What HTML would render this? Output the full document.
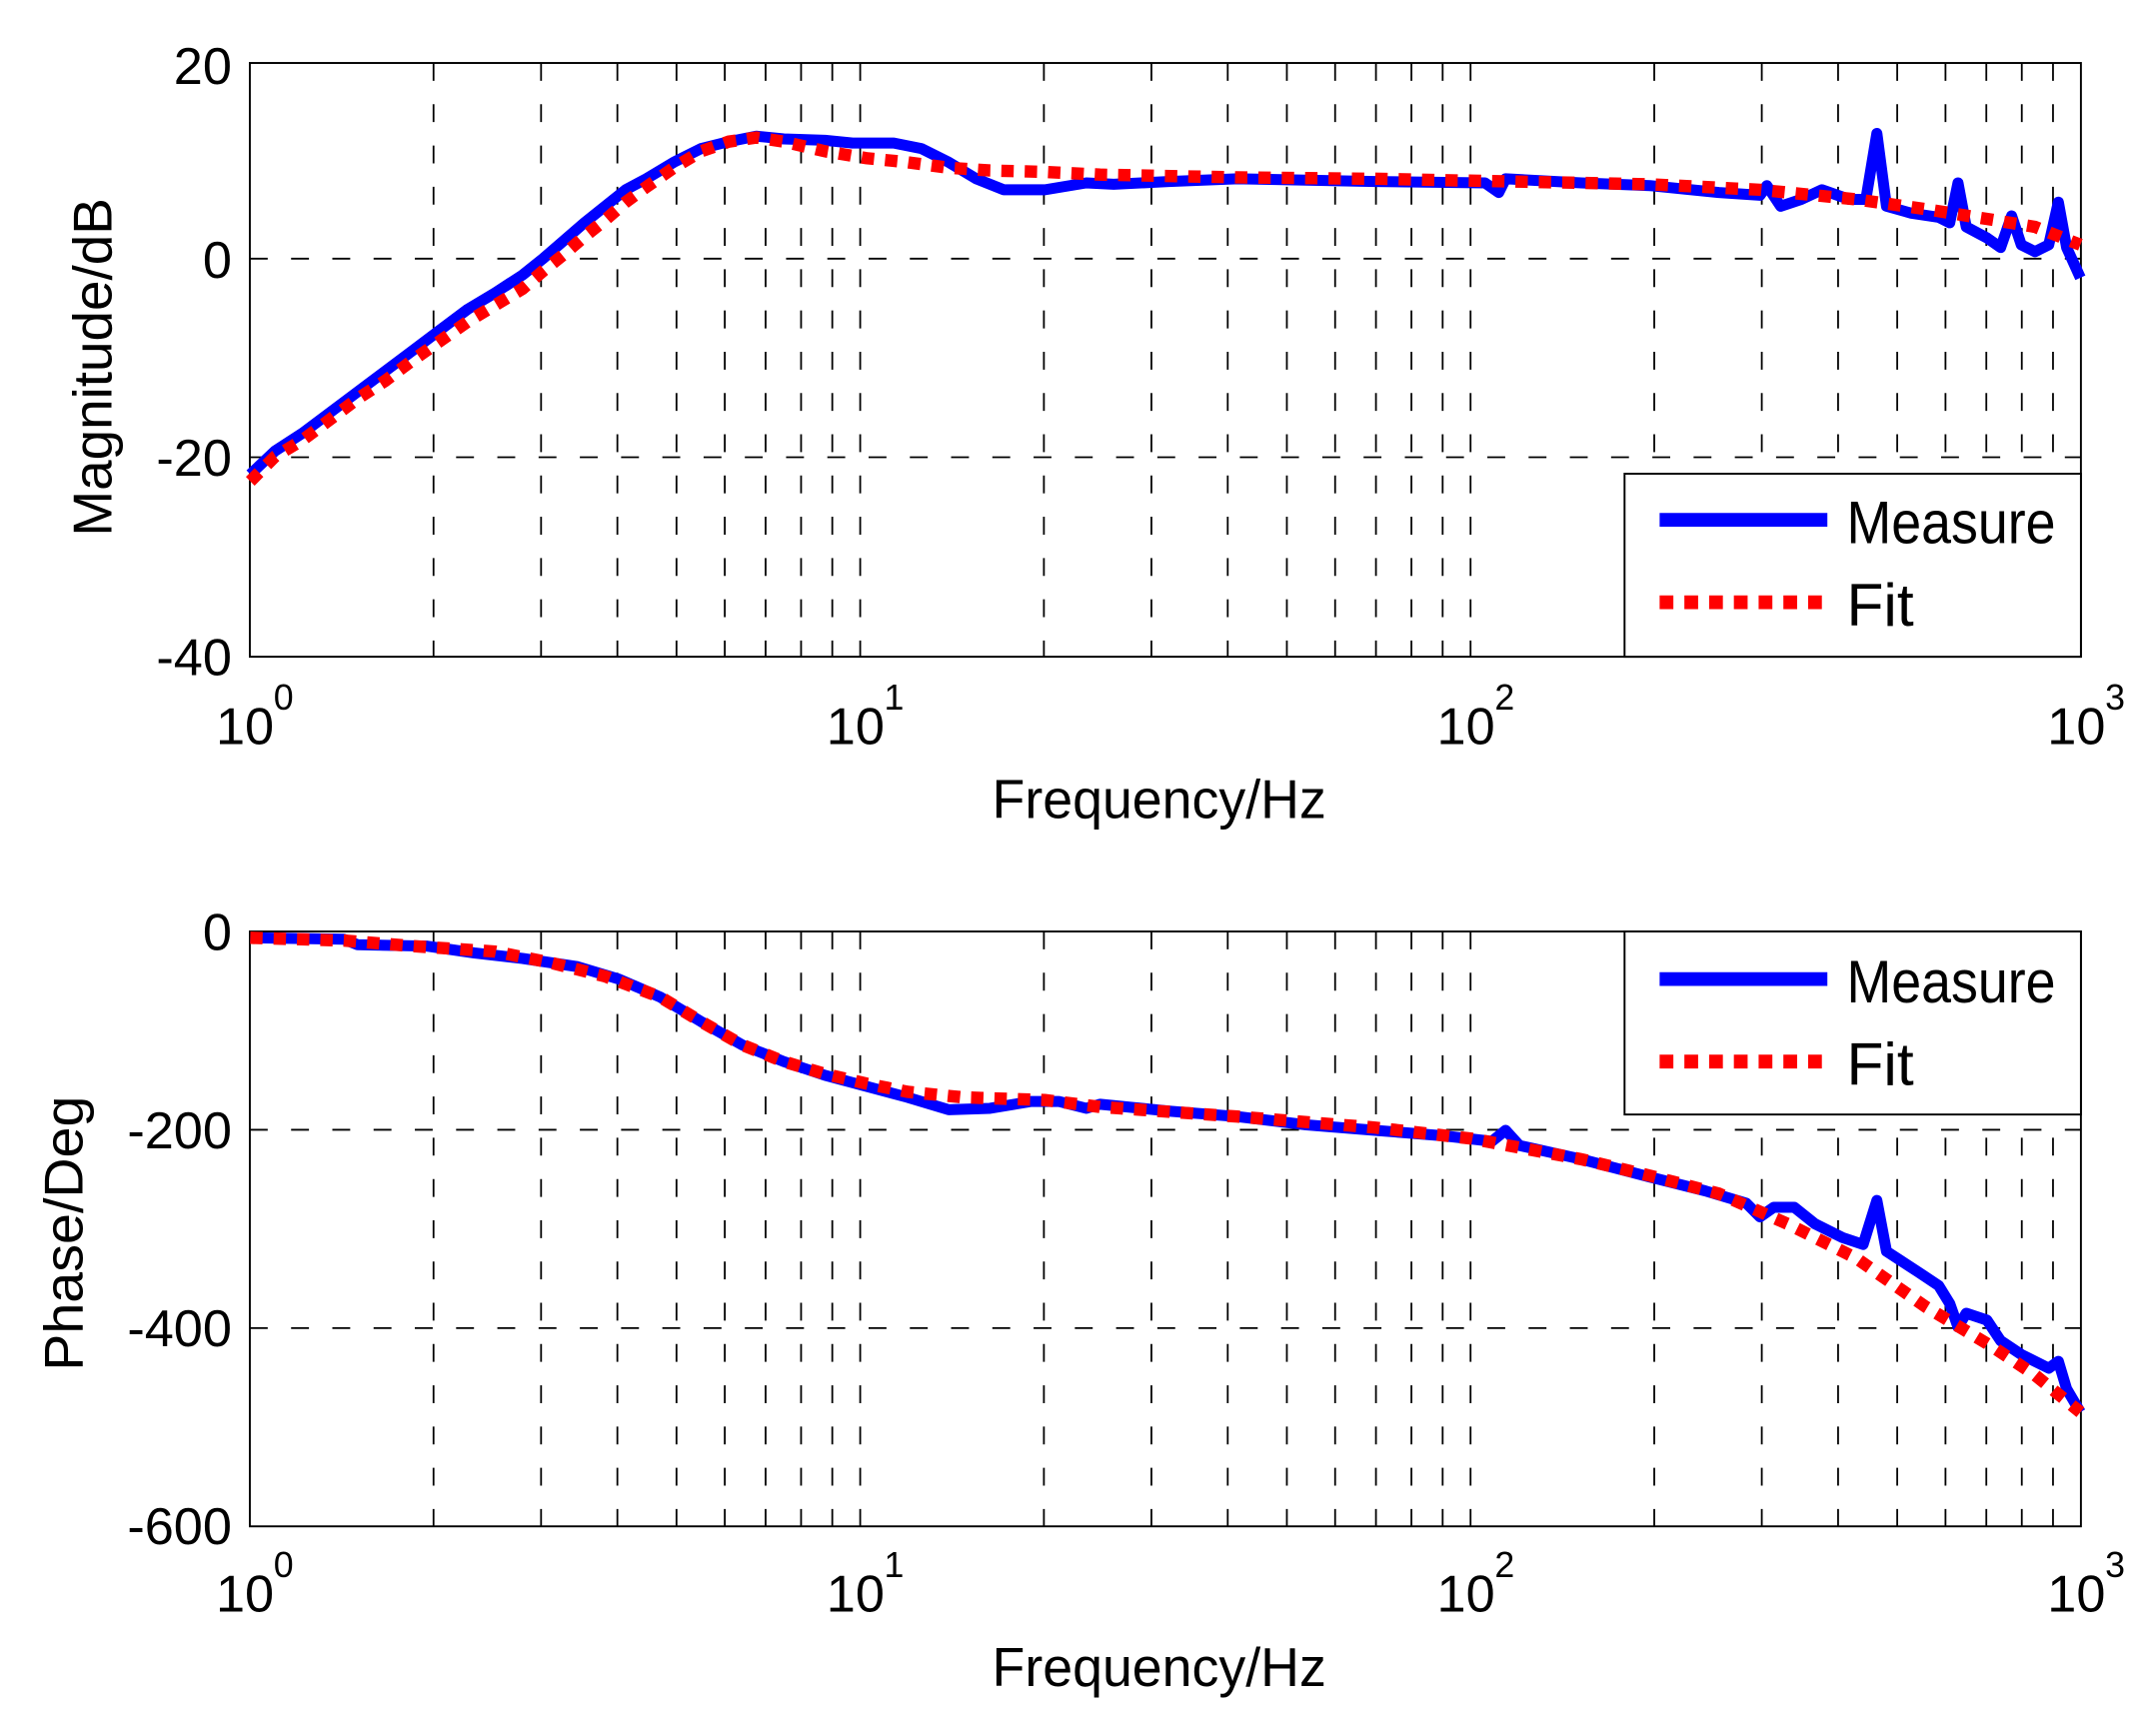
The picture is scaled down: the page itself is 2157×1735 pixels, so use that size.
<!DOCTYPE html>
<html><head><meta charset="utf-8"><style>html,body{margin:0;padding:0;background:#fff}svg{display:block}</style></head>
<body>
<svg width="2157" height="1735" viewBox="0 0 1568 1261" preserveAspectRatio="none" xmlns="http://www.w3.org/2000/svg" font-family="Liberation Sans, Arial, sans-serif">
<rect width="1568" height="1261" fill="#fff"/>
<g stroke="#000" stroke-width="1.3" stroke-dasharray="13 17" fill="none">
<path d="M315.3 45.8V477.6M393.5 45.8V477.6M449.0 45.8V477.6M492.0 45.8V477.6M527.1 45.8V477.6M556.8 45.8V477.6M582.6 45.8V477.6M605.3 45.8V477.6M625.6 45.8V477.6M759.2 45.8V477.6M837.4 45.8V477.6M892.9 45.8V477.6M935.9 45.8V477.6M971.0 45.8V477.6M1000.7 45.8V477.6M1026.5 45.8V477.6M1049.2 45.8V477.6M1069.5 45.8V477.6M1203.1 45.8V477.6M1281.3 45.8V477.6M1336.8 45.8V477.6M1379.8 45.8V477.6M1414.9 45.8V477.6M1444.6 45.8V477.6M1470.4 45.8V477.6M1493.1 45.8V477.6"/>
<path d="M181.7 188.1H1513.4M181.7 332.5H1513.4"/>
<path d="M315.3 677.4V1110M393.5 677.4V1110M449.0 677.4V1110M492.0 677.4V1110M527.1 677.4V1110M556.8 677.4V1110M582.6 677.4V1110M605.3 677.4V1110M625.6 677.4V1110M759.2 677.4V1110M837.4 677.4V1110M892.9 677.4V1110M935.9 677.4V1110M971.0 677.4V1110M1000.7 677.4V1110M1026.5 677.4V1110M1049.2 677.4V1110M1069.5 677.4V1110M1203.1 677.4V1110M1281.3 677.4V1110M1336.8 677.4V1110M1379.8 677.4V1110M1414.9 677.4V1110M1444.6 677.4V1110M1470.4 677.4V1110M1493.1 677.4V1110"/>
<path d="M181.7 821.6H1513.4M181.7 965.8H1513.4"/>
</g>
<rect x="181.7" y="45.8" width="1331.7" height="431.8" fill="none" stroke="#000" stroke-width="1.4"/>
<rect x="181.7" y="677.4" width="1331.7" height="432.6" fill="none" stroke="#000" stroke-width="1.4"/>

<polyline fill="none" stroke="#0000ff" stroke-width="8" stroke-linejoin="round" points="182,345 200,328 220,315 240,300 260,285 280,270 300,255 320,240 340,225 360,213 380,200 395,188 410,175 425,162 440,150 455,138 470,130 490,118 510,108 530,103 550,99 570,101 600,102 620,104 650,104 670,108 690,118 710,130 730,138 760,138 790,133 810,134 850,132 900,130 1000,132 1080,133 1090,140 1095,130 1150,133 1200,135 1250,140 1280,142 1285,135 1295,150 1310,145 1325,138 1345,145 1357,145 1365,97 1372,150 1390,155 1410,158 1418,162 1424,133 1430,165 1445,173 1455,180 1463,157 1470,178 1480,183 1490,178 1497,147 1503,180 1513,202"/>
<polyline fill="none" stroke="#ff0000" stroke-width="9" stroke-dasharray="9 8" points="182,350 200,332 220,320 240,305 260,290 280,277 300,262 320,248 340,234 360,222 380,210 395,197 410,185 425,172 440,160 455,147 470,136 490,122 510,110 530,103 550,100 570,103 600,110 630,115 660,118 690,122 720,124 760,125 800,127 900,129 1000,130 1100,132 1200,134 1280,138 1350,145 1400,152 1450,160 1480,165 1513,178"/>

<polyline fill="none" stroke="#0000ff" stroke-width="8" stroke-linejoin="round" points="182,682 250,683 260,687 310,688 345,693 380,697 420,703 450,712 480,725 510,743 540,760 570,772 600,782 630,790 660,798 690,807 720,806 750,801 770,801 790,806 800,803 850,808 900,812 950,818 1000,822 1050,826 1085,830 1095,822 1105,833 1150,843 1200,856 1240,866 1270,875 1280,885 1290,878 1305,878 1320,890 1340,900 1355,905 1365,873 1372,910 1395,925 1410,935 1418,948 1424,965 1430,955 1445,960 1455,975 1470,985 1490,995 1497,990 1503,1010 1513,1027"/>
<polyline fill="none" stroke="#ff0000" stroke-width="9" stroke-dasharray="9 8" points="182,682 250,684 300,688 360,692 400,700 440,710 480,725 510,743 540,760 570,772 600,781 630,788 660,794 700,798 760,800 800,805 900,812 1000,820 1070,828 1150,843 1200,855 1250,868 1300,890 1350,915 1400,950 1450,980 1480,1000 1513,1027"/>

<g>
<rect x="1181.5" y="344.5" width="331.9" height="133.1" fill="#fff" stroke="#000" stroke-width="1.4"/>
<line x1="1207" y1="378" x2="1329" y2="378" stroke="#0000ff" stroke-width="10"/>
<line x1="1207" y1="438" x2="1326" y2="438" stroke="#ff0000" stroke-width="10" stroke-dasharray="10 8"/>
<text x="1343" y="395" font-size="44" textLength="152" lengthAdjust="spacingAndGlyphs">Measure</text>
<text x="1343" y="455" font-size="44">Fit</text>
</g>
<g>
<rect x="1181.5" y="677.4" width="331.9" height="133.1" fill="#fff" stroke="#000" stroke-width="1.4"/>
<line x1="1207" y1="712" x2="1329" y2="712" stroke="#0000ff" stroke-width="10"/>
<line x1="1207" y1="772" x2="1326" y2="772" stroke="#ff0000" stroke-width="10" stroke-dasharray="10 8"/>
<text x="1343" y="729" font-size="44" textLength="152" lengthAdjust="spacingAndGlyphs">Measure</text>
<text x="1343" y="789" font-size="44">Fit</text>
</g>

<g font-size="38" text-anchor="end">
<text x="168.6" y="61">20</text>
<text x="168.6" y="202">0</text>
<text x="168.6" y="346">-20</text>
<text x="168.6" y="491">-40</text>
<text x="168.6" y="691">0</text>
<text x="168.6" y="835">-200</text>
<text x="168.6" y="979">-400</text>
<text x="168.6" y="1123">-600</text>
</g>
<g font-size="38">
<text x="157" y="541">10</text><text x="199" y="516" font-size="26">0</text>
<text x="601" y="541">10</text><text x="643" y="516" font-size="26">1</text>
<text x="1045" y="541">10</text><text x="1087" y="516" font-size="26">2</text>
<text x="1489" y="541">10</text><text x="1531" y="516" font-size="26">3</text>
<text x="157" y="1172">10</text><text x="199" y="1147" font-size="26">0</text>
<text x="601" y="1172">10</text><text x="643" y="1147" font-size="26">1</text>
<text x="1045" y="1172">10</text><text x="1087" y="1147" font-size="26">2</text>
<text x="1489" y="1172">10</text><text x="1531" y="1147" font-size="26">3</text>
</g>
<g font-size="40">
<text x="843" y="595" text-anchor="middle" textLength="243" lengthAdjust="spacingAndGlyphs">Frequency/Hz</text>
<text x="843" y="1226" text-anchor="middle" textLength="243" lengthAdjust="spacingAndGlyphs">Frequency/Hz</text>
<text transform="translate(81,267) rotate(-90)" text-anchor="middle" textLength="246" lengthAdjust="spacingAndGlyphs">Magnitude/dB</text>
<text transform="translate(60,897) rotate(-90)" text-anchor="middle" textLength="200" lengthAdjust="spacingAndGlyphs">Phase/Deg</text>
</g>
</svg>
</body></html>
